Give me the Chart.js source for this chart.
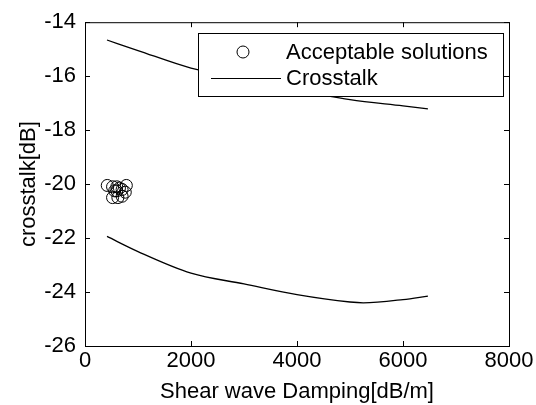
<!DOCTYPE html>
<html>
<head>
<meta charset="utf-8">
<script src="https://cdn.jsdelivr.net/npm/chart.js@4"></script>
<style>
  html, body { margin: 0; padding: 0; background: #fff; }
  #c { display: block; }
</style>
</head>
<body>
<canvas id="c" width="536" height="405"></canvas>
<script>
/* ── Data ── */
const xTicks = [0, 2000, 4000, 6000, 8000];
const yTicks = [-26, -24, -22, -20, -18, -16, -14];

const upperX = [415, 1000, 2000, 3000, 4000, 5000, 6000, 6470];
const upperY = [-14.66, -15.05, -15.70, -16.10, -16.52, -16.87, -17.10, -17.21];

const lowerX = [415, 1000, 2000, 3000, 4000, 5000, 5250, 6000, 6470];
const lowerY = [-21.94, -22.50, -23.30, -23.70, -24.10, -24.37, -24.40, -24.28, -24.15];

const solX = [420, 520, 600, 650, 780, 600, 700, 520, 620, 700, 760, 560];
const solY = [-20.05, -20.10, -20.10, -20.15, -20.05, -20.25, -20.20, -20.50, -20.50, -20.45, -20.30, -20.25];

const FONT = "Liberation Sans, Arial, sans-serif";
const SIZE = 22;
const pts = (xs, ys) => xs.map((x, i) => ({ x, y: ys[i] }));

/* ── Box, inward ticks and legend ── */
const matlabFrame = {
  id: "matlabFrame",
  afterDraw(chart) {
    const { ctx, chartArea: a, scales: { x, y } } = chart;
    ctx.save();
    ctx.strokeStyle = "#000";
    ctx.lineWidth = 1;
    ctx.strokeRect(a.left + 0.5, a.top + 0.5, a.right - a.left, a.bottom - a.top);
    ctx.beginPath();
    xTicks.forEach(v => {
      const px = Math.round(x.getPixelForValue(v)) + 0.5;
      ctx.moveTo(px, a.bottom); ctx.lineTo(px, a.bottom - 5);
      ctx.moveTo(px, a.top);    ctx.lineTo(px, a.top + 5);
    });
    yTicks.forEach(v => {
      const py = Math.round(y.getPixelForValue(v)) + 0.5;
      ctx.moveTo(a.left, py);  ctx.lineTo(a.left + 5, py);
      ctx.moveTo(a.right, py); ctx.lineTo(a.right - 5, py);
    });
    ctx.stroke();

    // legend box
    const lx = 198, ly = 33, lw = 305, lh = 63;
    ctx.fillStyle = "#fff";
    ctx.fillRect(lx, ly, lw, lh);
    ctx.strokeRect(lx + 0.5, ly + 0.5, lw, lh);
    ctx.beginPath();
    ctx.arc(243, 52, 6, 0, Math.PI * 2);
    ctx.stroke();
    ctx.beginPath();
    ctx.moveTo(211, 78.5); ctx.lineTo(281, 78.5);
    ctx.stroke();
    ctx.fillStyle = "#000";
    ctx.font = `${SIZE}px ${FONT}`;
    ctx.textBaseline = "middle";
    ctx.fillText(chart.data.datasets[0].label, 286, 53);
    ctx.fillText(chart.data.datasets[1].label, 286, 79);
    ctx.restore();
  }
};

/* ── Chart ── */
new Chart(document.getElementById("c"), {
  type: "scatter",
  data: {
    datasets: [
      {
        label: "Acceptable solutions",
        data: pts(solX, solY),
        showLine: false,
        pointStyle: "circle",
        pointRadius: 6,
        borderWidth: 1,
        borderColor: "#000",
        backgroundColor: "rgba(0,0,0,0)",
      },
      {
        label: "Crosstalk",
        data: pts(upperX, upperY),
        showLine: true,
        pointRadius: 0,
        borderWidth: 1.3,
        borderColor: "#000",
        cubicInterpolationMode: "monotone",
      },
      {
        label: "Crosstalk ",
        data: pts(lowerX, lowerY),
        showLine: true,
        pointRadius: 0,
        borderWidth: 1.3,
        borderColor: "#000",
        cubicInterpolationMode: "monotone",
      },
    ]
  },
  options: {
    responsive: false,
    animation: false,
    layout: { padding: { top: 21, right: 27, left: 0, bottom: 0 } },
    plugins: { legend: { display: false }, tooltip: { enabled: false } },
    scales: {
      x: {
        type: "linear",
        min: 0, max: 8000,
        afterBuildTicks: s => { s.ticks = xTicks.map(v => ({ value: v })); },
        afterFit: s => { s.height = 59; },
        grid: { display: false, drawTicks: false },
        border: { display: false },
        ticks: { color: "#000", font: { family: FONT, size: SIZE }, padding: 2, maxRotation: 0,
                 callback: v => String(v) },
        title: { display: true, text: "Shear wave Damping[dB/m]", color: "#000",
                 font: { family: FONT, size: SIZE }, padding: { top: 0, bottom: 0 } },
      },
      y: {
        type: "linear",
        min: -26, max: -14,
        afterBuildTicks: s => { s.ticks = yTicks.map(v => ({ value: v })); },
        afterFit: s => { s.width = 85; },
        grid: { display: false, drawTicks: false },
        border: { display: false },
        ticks: { color: "#000", font: { family: FONT, size: SIZE }, padding: 9,
                 callback: v => String(v) },
        title: { display: true, text: "crosstalk[dB]", color: "#000",
                 font: { family: FONT, size: SIZE }, padding: { top: 16, bottom: 0 } },
      }
    }
  },
  plugins: [matlabFrame]
});
</script>
</body>
</html>
